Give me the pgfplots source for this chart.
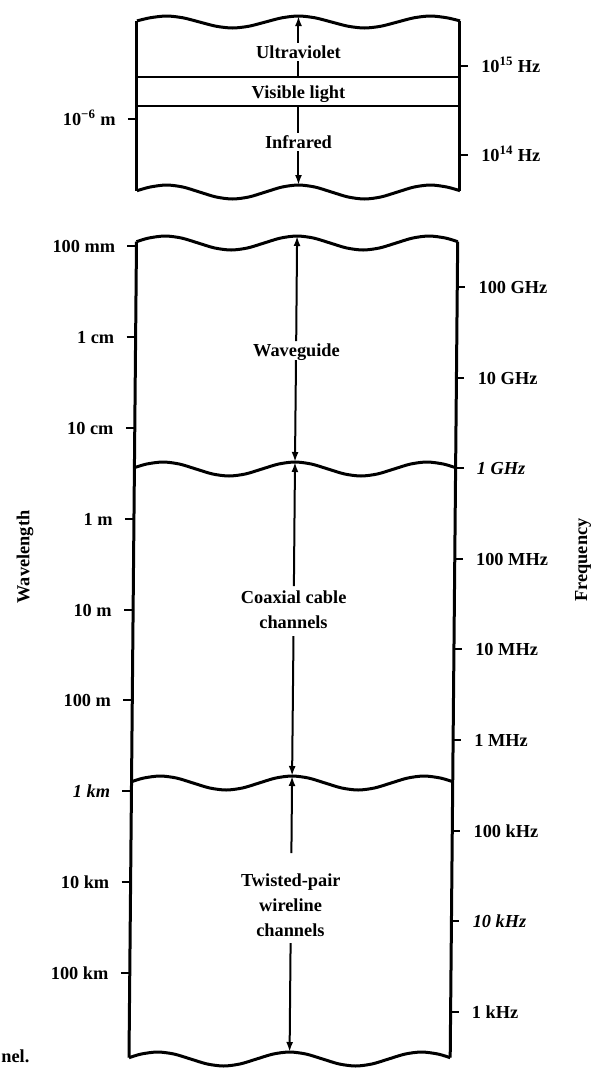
\documentclass[border=0pt]{standalone}
\usepackage{fontspec}
\setmainfont{Liberation Serif}
\usepackage{pgfplots}
\pgfplotsset{compat=1.18}
\usetikzlibrary{arrows.meta}

% wavy edges (pixel units, y downward)
\pgfplotstableread{
x y
137 20.9
150 17.8
166.5 16
183 17.8
199.5 22
216 26.2
232.5 28
249 26.2
265.5 22
282 17.8
298.5 16
315 17.8
331.5 22
348 26.2
364.5 28
381 26.2
397.5 22
414 17.8
430.5 16
447 17.8
460 20.9
}\waveA
\pgfplotstableread{
x y
137 190.7
150 187.05
166.5 185
183 187.05
199.5 192
216 196.95
232.5 199
249 196.95
265.5 192
282 187.05
298.5 185
315 187.05
331.5 192
348 196.95
364.5 199
381 196.95
397.5 192
414 187.05
430.5 185
447 187.05
460 190.7
}\waveB
\pgfplotstableread{
x y
136.5 241.7
148.6 238.05
165.1 236
181.6 238.05
198.1 243
214.6 247.95
231.1 250
247.6 247.95
264.1 243
280.6 238.05
297.1 236
313.6 238.05
330.1 243
346.6 247.95
363.1 250
379.6 247.95
396.1 243
412.6 238.05
429.1 236
445.6 238.05
457.7 241.7
}\waveC
\pgfplotstableread{
x y
134.4 467.7
146.5 464.05
163.0 462
179.5 464.05
196.0 469
212.5 473.95
229.0 476
245.5 473.95
262.0 469
278.5 464.05
295.0 462
311.5 464.05
328.0 469
344.5 473.95
361.0 476
377.5 473.95
394.0 469
410.5 464.05
427.0 462
443.5 464.05
455.6 467.7
}\waveD
\pgfplotstableread{
x y
131.5 781.7
143.6 778.05
160.1 776
176.6 778.05
193.1 783
209.6 787.95
226.1 790
242.6 787.95
259.1 783
275.6 778.05
292.1 776
308.6 778.05
325.1 783
341.6 787.95
358.1 790
374.6 787.95
391.1 783
407.6 778.05
424.1 776
440.6 778.05
452.7 781.7
}\waveE
\pgfplotstableread{
x y
129.0 1057.7
141.1 1054.05
157.6 1052
174.1 1054.05
190.6 1059
207.1 1063.95
223.6 1066
240.1 1063.95
256.6 1059
273.1 1054.05
289.6 1052
306.1 1054.05
322.6 1059
339.1 1063.95
355.6 1066
372.1 1063.95
388.6 1059
405.1 1054.05
421.6 1052
438.1 1054.05
450.2 1057.7
}\waveF

\tikzset{
  edge/.style={black, line width=1.8pt},
  tk/.style={black, line width=1.3pt},
  shaft/.style={black, line width=1.2pt},
  ar/.style={shaft, -{Latex[length=6pt,width=4.2pt]}},
  ra/.style={shaft, {Latex[length=6pt,width=4.2pt]}-},
  lab/.style={font=\fontsize{11}{13}\selectfont\bfseries, inner sep=0pt, anchor=base},
}

\begin{document}
\begin{tikzpicture}
\begin{axis}[
  scale only axis, width=360pt, height=640.8pt,
  xmin=0, xmax=600, ymin=0, ymax=1068, y dir=reverse,
  axis lines=none, clip=false, unbounded coords=jump,
]
% wavy edges
\addplot[edge, smooth] table {\waveA};
\addplot[edge, smooth] table {\waveB};
\addplot[edge, smooth] table {\waveC};
\addplot[edge, smooth] table {\waveD};
\addplot[edge, smooth] table {\waveE};
\addplot[edge, smooth] table {\waveF};
% straight sides
\addplot[edge] coordinates {(137,20.9) (137,190.7)};
\addplot[edge] coordinates {(460,20.9) (460,190.7)};
\addplot[edge] coordinates {(136.5,241.7) (129,1057.7)};
\addplot[edge] coordinates {(457.7,241.7) (450.2,1057.7)};
% visible light band
\addplot[black, line width=1.5pt] coordinates {(137,77) (460,77)};
\addplot[black, line width=1.5pt] coordinates {(137,106) (460,106)};
% left ticks (wavelength)
\addplot[tk] coordinates {
(128,119) (137,119) (0,nan)
(127.5,246) (136.5,246) (0,nan)
(126.6,337) (135.6,337) (0,nan)
(125.8,428) (134.8,428) (0,nan)
(125.0,519) (134.0,519) (0,nan)
(124.1,610) (133.1,610) (0,nan)
(123.3,700) (132.3,700) (0,nan)
(122.5,791) (131.5,791) (0,nan)
(121.6,882) (130.6,882) (0,nan)
(120.8,973) (129.8,973)};
% right ticks (frequency)
\addplot[tk] coordinates {
(460,66) (468,66) (0,nan)
(460,155) (468,155) (0,nan)
(457.3,287) (465.3,287) (0,nan)
(456.5,378) (464.5,378) (0,nan)
(455.6,468) (463.6,468) (0,nan)
(454.8,559) (462.8,559) (0,nan)
(454.0,649) (462.0,649) (0,nan)
(453.1,740) (461.1,740) (0,nan)
(452.3,831) (460.3,831) (0,nan)
(451.5,921) (459.5,921) (0,nan)
(450.6,1012) (458.6,1012)};
% centre arrows, top box
\addplot[ra] coordinates {(298.5,16) (298.5,43)};
\addplot[shaft] coordinates {(298.5,61) (298.5,77)};
\addplot[shaft] coordinates {(298.5,106) (298.5,133)};
\addplot[ar] coordinates {(298.5,151) (298.5,185)};
% waveguide
\addplot[ra] coordinates {(297.1,236) (296.2,341)};
\addplot[ar] coordinates {(296.0,360) (295.0,462)};
% coaxial cable
\addplot[ra] coordinates {(295.0,462) (293.9,586)};
\addplot[ar] coordinates {(293.5,636) (292.1,776)};
% twisted pair
\addplot[ra] coordinates {(292.1,776) (291.4,853)};
\addplot[ar] coordinates {(290.6,943) (289.6,1052)};

% region names (at baselines)
\node[lab] at (298.5,58) {Ultraviolet};
\node[lab] at (298.5,98) {Visible light};
\node[lab] at (298.5,148) {Infrared};
\node[lab] at (296.5,356) {Waveguide};
\node[lab] at (293.7,603) {Coaxial cable};
\node[lab] at (293.5,628) {channels};
\node[lab] at (290.8,886) {Twisted-pair};
\node[lab] at (290.6,911) {wireline};
\node[lab] at (290.4,936) {channels};

% wavelength labels
\node[lab, anchor=base east] at (116,125) {10\textsuperscript{−6} m};
\node[lab, anchor=base east] at (115.5,252) {100 mm};
\node[lab, anchor=base east] at (114.6,343) {1 cm};
\node[lab, anchor=base east] at (113.8,434) {10 cm};
\node[lab, anchor=base east] at (113.0,525) {1 m};
\node[lab, anchor=base east] at (112.1,616) {10 m};
\node[lab, anchor=base east] at (111.3,706) {100 m};
\node[lab, anchor=base east] at (110.5,797) {\itshape 1 km};
\node[lab, anchor=base east] at (109.6,888) {10 km};
\node[lab, anchor=base east] at (108.8,979) {100 km};

% frequency labels
\node[lab, anchor=base west] at (481,72) {10\textsuperscript{15} Hz};
\node[lab, anchor=base west] at (481,161) {10\textsuperscript{14} Hz};
\node[lab, anchor=base west] at (478.3,293) {100 GHz};
\node[lab, anchor=base west] at (477.5,384) {10 GHz};
\node[lab, anchor=base west] at (476.6,474) {\itshape 1 GHz};
\node[lab, anchor=base west] at (475.8,565) {100 MHz};
\node[lab, anchor=base west] at (475.0,655) {10 MHz};
\node[lab, anchor=base west] at (474.1,746) {1 MHz};
\node[lab, anchor=base west] at (473.3,837) {100 kHz};
\node[lab, anchor=base west] at (472.5,927) {\itshape 10 kHz};
\node[lab, anchor=base west] at (471.6,1018) {1 kHz};

% axis titles
\node[lab, anchor=center, rotate=90] at (25,557) {Wavelength};
\node[lab, anchor=center, rotate=90] at (583,560) {Frequency};
% remnant of the caption
\node[lab, anchor=base west] at (1,1062) {nel.};
\end{axis}
\pgfresetboundingbox
\path (current axis.south west) rectangle (current axis.north east);
\end{tikzpicture}
\end{document}
